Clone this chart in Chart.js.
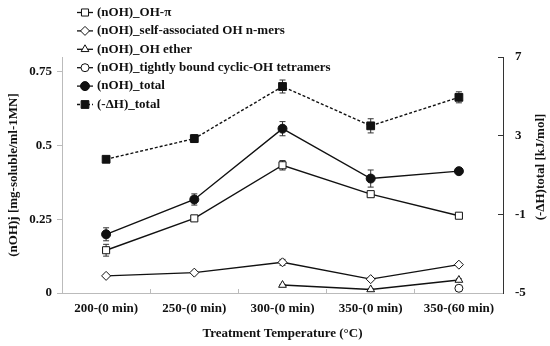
<!DOCTYPE html>
<html>
<head>
<meta charset="utf-8">
<script src="https://cdn.jsdelivr.net/npm/chart.js@4"></script>
<style>
  body { margin: 0; background: #fff; }
  #wrap { width: 550px; height: 346px; position: relative; }
</style>
</head>
<body>
<div id="wrap"><canvas id="treatChart"></canvas></div>
<script>
const categories = ['200-(0 min)', '250-(0 min)', '300-(0 min)', '350-(0 min)', '350-(60 min)'];

const ohPi = [0.145, 0.253, 0.433, 0.335, 0.262];
const ohPiErr = [0.02, 0.005, 0.016, 0.008, 0.004];

const selfAssoc = [0.058, 0.069, 0.104, 0.047, 0.096];
const selfAssocErr = [0.004, 0.003, 0.01, 0.004, 0.004];

const ohEther = [null, null, 0.027, 0.012, 0.044];
const ohEtherErr = [null, null, 0.002, 0.002, 0.004];

const cyclicOH = [null, null, null, null, 0.016];

const nohTotal = [0.199, 0.317, 0.557, 0.388, 0.413];
const nohTotalErr = [0.022, 0.019, 0.024, 0.029, 0.008];

const dHTotal = [1.8, 2.85, 5.5, 3.5, 4.95];
const dHTotalErr = [0.15, 0.2, 0.33, 0.36, 0.28];

const leftTicks = [0, 0.25, 0.5, 0.75];
const rightTicks = [-5, -1, 3, 7];

const serif = "'Liberation Serif', 'DejaVu Serif', serif";
const ink = '#111';

// error bars, drawn under the markers
const errorBars = {
    id: 'errorBars',
    beforeDatasetsDraw(chart) {
        const ctx = chart.ctx;
        ctx.save();
        ctx.strokeStyle = '#333';
        ctx.lineWidth = 1;
        chart.data.datasets.forEach((ds, i) => {
            if (!ds.errors) return;
            const meta = chart.getDatasetMeta(i);
            const scale = chart.scales[ds.yAxisID];
            ds.errors.forEach((e, j) => {
                if (e == null || ds.data[j] == null) return;
                const x = meta.data[j].x;
                const yTop = scale.getPixelForValue(ds.data[j] + e);
                const yBot = scale.getPixelForValue(ds.data[j] - e);
                ctx.beginPath();
                ctx.moveTo(x, yTop); ctx.lineTo(x, yBot);
                ctx.moveTo(x - 3, yTop); ctx.lineTo(x + 3, yTop);
                ctx.moveTo(x - 3, yBot); ctx.lineTo(x + 3, yBot);
                ctx.stroke();
            });
        });
        ctx.restore();
    }
};

function drawMarker(ctx, style, r, x, y, fill) {
    ctx.beginPath();
    if (style === 'rect') {
        const s = r * Math.SQRT1_2;
        ctx.rect(x - s, y - s, 2 * s, 2 * s);
    } else if (style === 'rectRot') {
        ctx.moveTo(x, y - r); ctx.lineTo(x + r, y); ctx.lineTo(x, y + r); ctx.lineTo(x - r, y);
        ctx.closePath();
    } else if (style === 'triangle') {
        ctx.moveTo(x, y - r);
        ctx.lineTo(x + r * 0.866, y + r * 0.5);
        ctx.lineTo(x - r * 0.866, y + r * 0.5);
        ctx.closePath();
    } else {
        ctx.arc(x, y, r, 0, Math.PI * 2);
    }
    ctx.fillStyle = fill;
    ctx.fill();
    ctx.lineWidth = 1;
    ctx.setLineDash([]);
    ctx.strokeStyle = ink;
    ctx.stroke();
}

// legend sits inside the plot, top left, plus the right axis title read bottom to top
const overlay = {
    id: 'overlay',
    afterDraw(chart) {
        const ctx = chart.ctx;
        ctx.save();
        chart.data.datasets.forEach((ds, i) => {
            const y = 12.5 + i * 18.4;
            ctx.beginPath();
            ctx.strokeStyle = ink;
            ctx.lineWidth = 1.3;
            ctx.setLineDash(ds.borderDash || []);
            ctx.moveTo(77, y); ctx.lineTo(93, y);
            ctx.stroke();
            drawMarker(ctx, ds.pointStyle, ds.pointRadius, 85, y, ds.pointBackgroundColor);
            ctx.fillStyle = ink;
            ctx.font = 'bold 13px ' + serif;
            ctx.textBaseline = 'middle';
            ctx.textAlign = 'left';
            ctx.fillText(ds.label, 97, y);
        });
        ctx.translate(541, 167);
        ctx.rotate(-Math.PI / 2);
        ctx.textAlign = 'center';
        ctx.textBaseline = 'middle';
        ctx.font = 'bold 13px ' + serif;
        ctx.fillText('(-ΔH)total [kJ/mol]', 0, 0);
        ctx.restore();
    }
};

const ctxTreat = document.getElementById('treatChart');

const treatChart = new Chart(ctxTreat, {
    type: 'line',
    data: {
        labels: categories,
        datasets: [{
            label: '(nOH)_OH-π',
            data: ohPi,
            errors: ohPiErr,
            yAxisID: 'y',
            pointStyle: 'rect',
            pointRadius: 5,
            pointBackgroundColor: '#fff'
        }, {
            label: '(nOH)_self-associated OH n-mers',
            data: selfAssoc,
            errors: selfAssocErr,
            yAxisID: 'y',
            pointStyle: 'rectRot',
            pointRadius: 4.5,
            pointBackgroundColor: '#fff'
        }, {
            label: '(nOH)_OH ether',
            data: ohEther,
            errors: ohEtherErr,
            yAxisID: 'y',
            pointStyle: 'triangle',
            pointRadius: 4.5,
            pointBackgroundColor: '#fff'
        }, {
            label: '(nOH)_tightly bound cyclic-OH tetramers',
            data: cyclicOH,
            yAxisID: 'y',
            pointStyle: 'circle',
            pointRadius: 4,
            pointBackgroundColor: '#fff'
        }, {
            label: '(nOH)_total',
            data: nohTotal,
            errors: nohTotalErr,
            yAxisID: 'y',
            pointStyle: 'circle',
            pointRadius: 4.5,
            pointBackgroundColor: ink
        }, {
            label: '(-ΔH)_total',
            data: dHTotal,
            errors: dHTotalErr,
            yAxisID: 'y2',
            pointStyle: 'rect',
            pointRadius: 5.5,
            pointBackgroundColor: ink,
            borderDash: [3, 2]
        }].map(ds => Object.assign({
            borderColor: ink,
            borderWidth: 1.4,
            pointBorderColor: ink,
            pointBorderWidth: 1,
            tension: 0
        }, ds))
    },
    options: {
        responsive: true,
        maintainAspectRatio: false,
        animation: false,
        layout: {
            padding: { top: 57, left: 0, right: 0, bottom: 0 }
        },
        plugins: {
            legend: { display: false },
            tooltip: { enabled: false }
        },
        scales: {
            x: {
                offset: true,
                grid: {
                    offset: true,
                    drawOnChartArea: false,
                    tickLength: -4,
                    color: '#bbb'
                },
                border: { color: '#bbb' },
                ticks: {
                    color: ink,
                    padding: 12,
                    maxRotation: 0,
                    font: { family: serif, size: 13, weight: 'bold' }
                },
                title: {
                    display: true,
                    text: 'Treatment Temperature (°C)',
                    color: ink,
                    padding: { top: 0, bottom: 5 },
                    font: { family: serif, size: 13, weight: 'bold' }
                },
                afterFit: scale => { scale.height = 53; }
            },
            y: {
                position: 'left',
                min: 0,
                max: 0.8,
                afterBuildTicks: scale => {
                    scale.ticks = leftTicks.map(v => ({ value: v }));
                },
                grid: {
                    drawOnChartArea: false,
                    tickLength: 5,
                    color: '#bbb'
                },
                border: { color: '#bbb' },
                ticks: {
                    color: ink,
                    padding: 5,
                    callback: v => String(v),
                    font: { family: serif, size: 13, weight: 'bold' }
                },
                title: {
                    display: true,
                    text: '(nOH)j [mg-soluble/ml-1MN]',
                    color: ink,
                    padding: { top: 6, bottom: 0 },
                    font: { family: serif, size: 13, weight: 'bold' }
                },
                afterFit: scale => { scale.width = 62; }
            },
            y2: {
                position: 'right',
                min: -5,
                max: 7,
                afterBuildTicks: scale => {
                    scale.ticks = rightTicks.map(v => ({ value: v }));
                },
                grid: {
                    drawOnChartArea: false,
                    tickLength: -5,
                    color: '#333'
                },
                border: { color: '#333', dash: [3, 2] },
                ticks: {
                    color: ink,
                    padding: 17,
                    font: { family: serif, size: 13, weight: 'bold' }
                },
                afterFit: scale => { scale.width = 47; }
            }
        }
    },
    plugins: [errorBars, overlay]
});
</script>
</body>
</html>
